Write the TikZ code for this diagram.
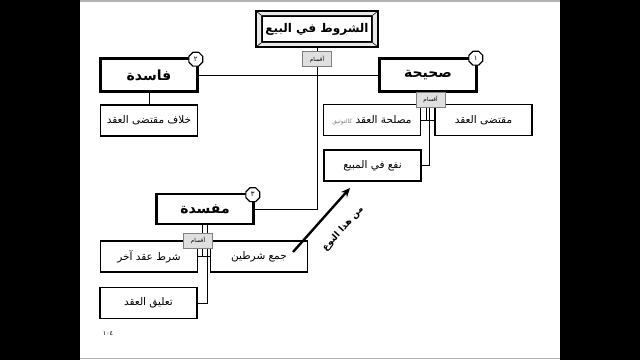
\documentclass[tikz,border=0pt]{standalone}
\usepackage{fontspec}
\newfontfamily\arabicfont[Script=Arabic]{DejaVu Sans}
\TeXXeTstate=1
\usetikzlibrary{shapes.geometric, arrows.meta}

\newcommand{\RTL}[1]{\beginR #1\endR}

\tikzset{
    mainbox/.style={draw, line width=2.6pt, fill=white, minimum width=97pt, minimum height=33pt,
        font=\arabicfont\bfseries\fontsize{14}{16}\selectfont},
    subbox/.style={draw, line width=1.1pt, fill=white, minimum width=97pt, minimum height=31pt,
        font=\arabicfont\fontsize{10.5}{12}\selectfont},
    partbox/.style={draw=gray, fill=gray!25, line width=0.6pt, minimum width=29pt, minimum height=15pt,
        inner sep=1pt, font=\arabicfont\fontsize{5.5}{6}\selectfont},
    badge/.style={draw, regular polygon, regular polygon sides=8, line width=1.2pt, fill=white,
        minimum size=15pt, inner sep=0pt, font=\arabicfont\fontsize{7}{8}\selectfont},
    link/.style={line width=1pt},
}

\begin{document}
\begin{tikzpicture}[x=1pt, y=-1pt]
    \useasboundingbox (0,0) rectangle (640,360);
    % slide on black
    \fill[black] (0,0) rectangle (640,360);
    \fill[white] (80,0) rectangle (560,360);
    \draw[gray!60, line width=1.5pt] (80,0.75) -- (560,0.75) (80,358.5) -- (560,358.5);

    % Explicit Coordinates of the boxes
    \coordinate (T) at (317,29);
    \coordinate (F) at (149,75);
    \coordinate (S) at (428,75);
    \coordinate (M) at (205,209);

    % title with bevelled frame
    \node[draw, line width=1.6pt, minimum width=110pt, minimum height=26pt,
        font=\arabicfont\bfseries\fontsize{12}{14}\selectfont] (title) at (T) {\RTL{الشروط في البيع}};
    \coordinate (fNW) at ([shift={(-5,-4)}]title.north west);
    \coordinate (fSE) at ([shift={(5,4)}]title.south east);
    \fill[gray!18, even odd rule] (fNW) rectangle (fSE) (title.north west) rectangle (title.south east);
    \draw[line width=1.6pt] (fNW) rectangle (fSE);
    \draw[line width=0.6pt] (fNW) -- (title.north west) (fSE) -- (title.south east)
        (fNW -| fSE) -- (title.north east) (fNW |- fSE) -- (title.south west);

    % the three kinds
    \node[mainbox] (fasida) at (F) {\RTL{فاسدة}};
    \node[mainbox] (sahiha) at (S) {\RTL{صحيحة}};
    \node[mainbox, minimum height=30pt] (mufsida) at (M) {\RTL{مفسدة}};

    % their parts
    \node[subbox] (khilaf) at (149,120.5) {\RTL{خلاف مقتضى العقد}};
    \node[subbox] (maslaha) at (372,120) {{\color{gray}\fontsize{6}{7}\selectfont\RTL{كالتوثيق}} \RTL{مصلحة العقد}};
    \node[subbox] (muqtada) at (483.5,120) {\RTL{مقتضى العقد}};
    \node[subbox] (naf) at (372.5,165.5) {\RTL{نفع في المبيع}};
    \node[subbox] (shart) at (149,256.5) {\RTL{شرط عقد آخر}};
    \node[subbox] (jam) at (259,256.5) {\RTL{جمع شرطين}};
    \node[subbox] (taliq) at (148.5,303) {\RTL{تعليق العقد}};

    % connectors
    \draw[link] (title.south |- fSE) |- (mufsida.east);
    \draw[link] (fasida.east) -- (sahiha.west);
    \draw[link] (fasida.south) -- (khilaf.north);
    \draw[link] (maslaha.east) -- (muqtada.west);
    \draw[link] ([xshift=-1.8pt]sahiha.south) -- ([xshift=-1.8pt]sahiha.south |- maslaha.east);
    \draw[link] ([xshift=1.8pt]sahiha.south) |- (naf.east);
    \draw[link] (shart.east) -- (jam.west);
    \draw[link] ([xshift=-2.5pt]mufsida.south) -- ([xshift=-2.5pt]mufsida.south |- shart.east);
    \draw[link] ([xshift=2.5pt]mufsida.south) |- (taliq.east);

    % part labels
    \node[partbox] (aqsam1) at (317,59) {\RTL{أقسام}};
    \node[partbox] (aqsam2) at (430.5,99.5) {\RTL{أقسام}};
    \node[partbox] (aqsam3) at (198,240.5) {\RTL{أقسام}};

    % numbers
    \node[badge] (b1) at ([shift={(-2,1)}]sahiha.north east) {١};
    \node[badge] (b2) at ([shift={(-3,2)}]fasida.north east) {٢};
    \node[badge] (b3) at ([shift={(-2,2)}]mufsida.north east) {٣};

    % arrow
    \coordinate (arrS) at (293,252);
    \coordinate (arrE) at (350,188);
    \draw[line width=2.4pt, -{Stealth[length=9pt, width=8pt]}] (arrS) -- (arrE);
    \node[rotate=48, inner sep=1pt, font=\arabicfont\bfseries\fontsize{9}{10}\selectfont] (naw) at (343,229) {\RTL{من هذا النوع}};

    \node[font=\arabicfont\fontsize{6.5}{7}\selectfont] (page) at (108,333) {١٠٤};
\end{tikzpicture}
\end{document}
